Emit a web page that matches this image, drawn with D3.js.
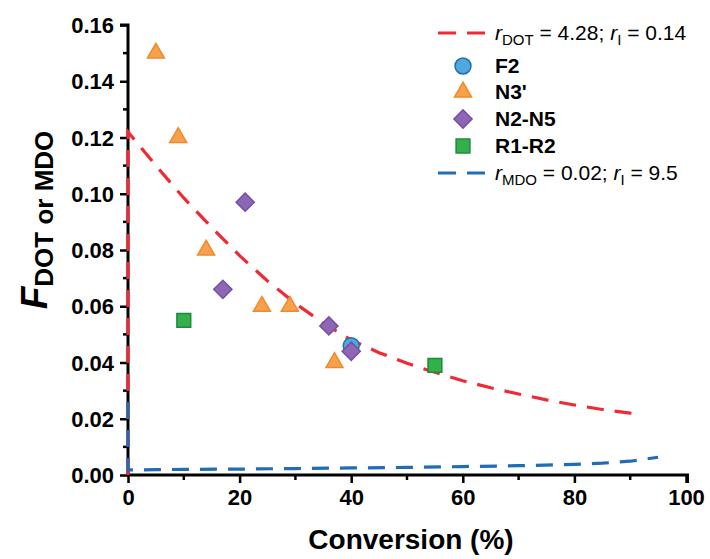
<!DOCTYPE html>
<html><head><meta charset="utf-8">
<script src="https://cdn.jsdelivr.net/npm/d3@7"></script>
<style>body{margin:0;background:#fff}svg{display:block;font-family:"Liberation Sans",Arial,sans-serif}</style>
</head><body><svg width="710" height="559"></svg>
<script>
// ---- data ----
const xTickValues = [0, 20, 40, 60, 80, 100];
const xMinorTicks = [10, 30, 50, 70, 90];
const yTickValues = [0, 0.02, 0.04, 0.06, 0.08, 0.10, 0.12, 0.14, 0.16];
const yMinorTicks = [0.01, 0.03, 0.05, 0.07, 0.09, 0.11, 0.13, 0.15];

const f2Data = [[40, 0.046]];
const n3Data = [[5, 0.150], [9, 0.120], [14, 0.080], [24, 0.060], [29, 0.060], [37, 0.040]];
const n2n5Data = [[17, 0.066], [21, 0.097], [36, 0.053], [40, 0.044]];
const r1r2Data = [[10, 0.055], [55, 0.039]];

const dotCurveX = [0, 0, 5, 10, 15, 20, 25, 30, 35, 40, 45, 50, 55, 60, 65, 70, 75, 80, 85, 90, 91];
const dotCurveY = [0, 0.122, 0.110, 0.0985, 0.088, 0.078, 0.069, 0.061, 0.054, 0.048, 0.0435, 0.0397, 0.0365, 0.0335, 0.031, 0.0288, 0.0267, 0.0249, 0.0233, 0.0220, 0.0218];
const mdoCurveX = [0, 0, 5, 10, 20, 30, 40, 50, 60, 70, 80, 85, 90, 95];
const mdoCurveY = [0.026, 0.0018, 0.0019, 0.002, 0.0021, 0.0023, 0.0025, 0.0027, 0.003, 0.0033, 0.0038, 0.0042, 0.0049, 0.0063];

const legendLabels = ["F2", "N3'", "N2-N5", "R1-R2"];

// ---- setup ----
const svg = d3.select("svg");
const x = d3.scaleLinear().domain([0, 100]).range([128, 686]);
const y = d3.scaleLinear().domain([0, 0.16]).range([475, 25]);

const RED = "#ee2a35", BLUE = "#1f6db5";
const styles = {
  "F2": {type: d3.symbolCircle, size: 200, fill: "#4ea7dd", stroke: "#1f6fb5", rot: 0},
  "N3'": {type: d3.symbolTriangle, size: 125, fill: "#f7a04d", stroke: "#f08a2a", rot: 0},
  "N2-N5": {type: d3.symbolSquare, size: 165, fill: "#8d66b6", stroke: "#7550a5", rot: 45},
  "R1-R2": {type: d3.symbolSquare, size: 190, fill: "#34b04b", stroke: "#1c8a3b", rot: 0}
};

// ---- axes ----
const fontTick = 22;
const xAx = d3.axisBottom(x).tickValues(xTickValues).tickSize(8).tickFormat(d3.format("d"));
const gx = svg.append("g").attr("transform", `translate(0,${y(0)})`).call(xAx);
const yAx = d3.axisLeft(y).tickValues(yTickValues).tickSize(8).tickFormat(d3.format(".2f"));
const gy = svg.append("g").attr("transform", `translate(${x(0)},0)`).call(yAx);
[gx, gy].forEach(g => {
  g.select(".domain").attr("stroke", "#000").attr("stroke-width", 3);
  g.selectAll(".tick line").attr("stroke", "#000").attr("stroke-width", 2.5);
  g.selectAll(".tick text").attr("fill", "#000").attr("font-size", fontTick).attr("font-weight", "bold")
    .attr("font-family", "'Liberation Sans',Arial,sans-serif");
});
gx.select(".domain").attr("d", `M${x(0)-1.5},0H${x(100)+1.5}V8`);
gy.select(".domain").attr("d", `M-8,${y(0.16)}H0V${y(0)+1.5}`);
gx.selectAll(".tick text").attr("dy", "0.95em").attr("y", 9);
gy.selectAll(".tick text").attr("x", -14).attr("dy", "0.35em");
gx.selectAll(".minor").data(xMinorTicks).enter().append("line").attr("class", "minor")
  .attr("x1", d => x(d)).attr("x2", d => x(d)).attr("y1", 0).attr("y2", 5)
  .attr("stroke", "#000").attr("stroke-width", 2.5);
gy.selectAll(".minor").data(yMinorTicks).enter().append("line").attr("class", "minor")
  .attr("y1", d => y(d)).attr("y2", d => y(d)).attr("x1", 0).attr("x2", -5)
  .attr("stroke", "#000").attr("stroke-width", 2.5);

// ---- curves (drawn over axes, as in the reference) ----
const line = d3.line().x(d => x(d[0])).y(d => y(d[1]));
const dotPts = dotCurveX.map((v, i) => [v, dotCurveY[i]]);
const mdoPts = mdoCurveX.map((v, i) => [v, mdoCurveY[i]]);
svg.append("path").attr("d", line(dotPts)).attr("fill", "none").attr("stroke", RED)
  .attr("stroke-width", 3.2).attr("stroke-dasharray", "17,11");
svg.append("path").attr("d", line(mdoPts)).attr("fill", "none").attr("stroke", BLUE)
  .attr("stroke-width", 3.2).attr("stroke-dasharray", "17,11");

// ---- markers ----
const seriesList = [["F2", f2Data], ["N3'", n3Data], ["N2-N5", n2n5Data], ["R1-R2", r1r2Data]];
seriesList.forEach(([name, data]) => {
  const s = styles[name];
  svg.append("g").selectAll("path").data(data).enter().append("path")
    .attr("d", d3.symbol().type(s.type).size(s.size)())
    .attr("transform", d => `translate(${x(d[0])},${y(d[1])}) rotate(${s.rot})`)
    .attr("fill", s.fill).attr("stroke", s.stroke).attr("stroke-width", 1.5);
});

// ---- axis titles ----
svg.append("text").attr("x", 411).attr("y", 549).attr("text-anchor", "middle")
  .attr("font-size", 28).attr("font-weight", "bold").text("Conversion (%)");
const yt = svg.append("text").attr("transform", "translate(47,220) rotate(-90)")
  .attr("text-anchor", "middle").attr("font-weight", "bold");
yt.append("tspan").attr("font-style", "italic").attr("font-size", 37).text("F");
yt.append("tspan").attr("font-size", 26).attr("dy", 6).text("DOT or MDO");

// ---- legend ----
const lg = svg.append("g");
const lx = 438, tx = 495;
const rowY = [33, 66, 92, 119, 146, 173];
function rText(yy, a, b, c, d) {
  const t = lg.append("text").attr("x", tx).attr("y", yy + 7).attr("font-size", 21);
  t.append("tspan").attr("font-style", "italic").text("r");
  t.append("tspan").attr("font-size", 15).attr("dy", 5).text(a);
  t.append("tspan").attr("dy", -5).text(b);
  t.append("tspan").attr("font-style", "italic").text("r");
  t.append("tspan").attr("font-size", 15).attr("dy", 5).text(c);
  t.append("tspan").attr("dy", -5).text(d);
}
lg.append("line").attr("x1", lx).attr("x2", lx + 48).attr("y1", rowY[0]).attr("y2", rowY[0])
  .attr("stroke", RED).attr("stroke-width", 3.2).attr("stroke-dasharray", "18,11");
rText(rowY[0], "DOT", " = 4.28; ", "I", " = 0.14");
legendLabels.forEach((name, i) => {
  const s = styles[name];
  const yy = rowY[i + 1];
  lg.append("path").attr("d", d3.symbol().type(s.type).size(s.size)())
    .attr("transform", `translate(${lx + 25},${yy}) rotate(${s.rot})`)
    .attr("fill", s.fill).attr("stroke", s.stroke).attr("stroke-width", 1.5);
  lg.append("text").attr("x", tx).attr("y", yy + 7).attr("font-size", 21).attr("font-weight", "bold").text(name);
});
lg.append("line").attr("x1", lx).attr("x2", lx + 48).attr("y1", rowY[5]).attr("y2", rowY[5])
  .attr("stroke", BLUE).attr("stroke-width", 3.2).attr("stroke-dasharray", "18,11");
rText(rowY[5], "MDO", " = 0.02; ", "I", " = 9.5");
</script></body></html>
